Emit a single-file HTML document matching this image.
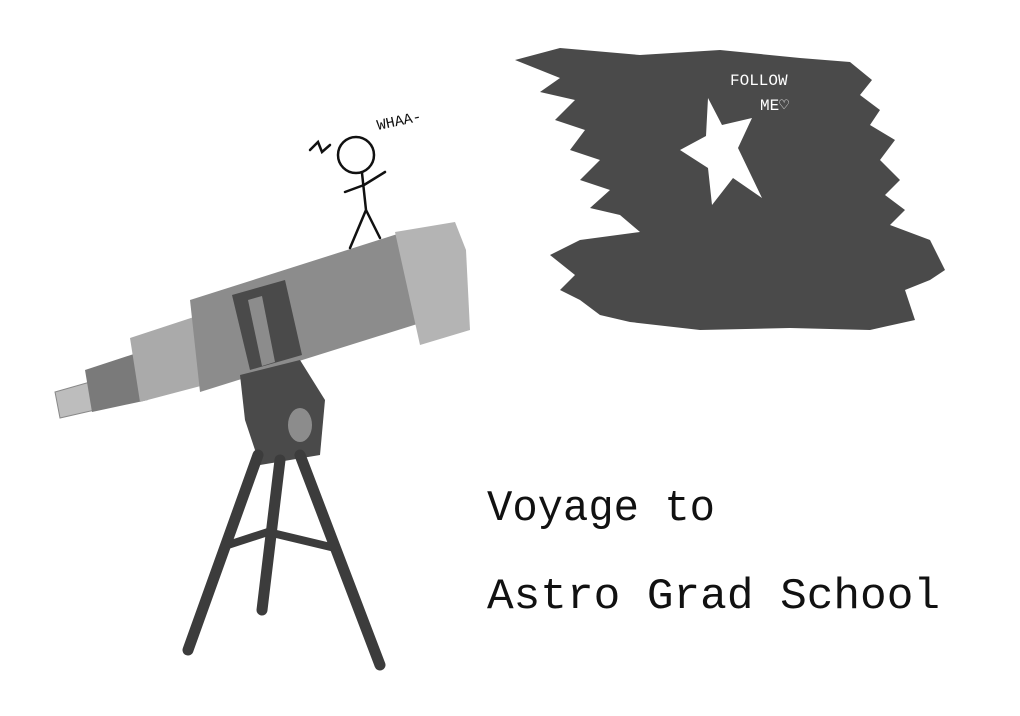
<!DOCTYPE html>
<html><head><meta charset="utf-8"><style>
html,body{margin:0;padding:0;background:#fff;width:1020px;height:716px;overflow:hidden}
svg{display:block}
text{font-family:"Liberation Mono","DejaVu Sans Mono",monospace}
</style></head><body>
<svg width="1020" height="716" viewBox="0 0 1020 716">
<rect width="1020" height="716" fill="#fff"/>
<g fill="#4a4a4a">
<path d="M515 60 L560 48 L640 55 L720 50 L800 58 L850 62 L872 80 L860 95 L880 110 L870 125 L895 140 L880 160 L900 180 L885 195 L905 210 L890 225 L930 240 L945 270 L930 280 L905 290 L915 320 L870 330 L790 328 L700 330 L630 322 L600 315 L580 300 L560 290 L575 275 L550 255 L580 240 L640 232 L620 215 L590 208 L610 190 L580 180 L600 160 L570 150 L585 130 L555 120 L575 100 L540 92 L560 78 Z"/>
</g>
<path d="M708 98 L722 125 L752 118 L738 148 L762 198 L733 178 L712 205 L708 168 L680 150 L706 136 Z" fill="#fff"/>
<text x="730" y="85" font-size="16" fill="#fff">FOLLOW</text>
<text x="760" y="110" font-size="16" fill="#fff">ME♡</text>
<g>
<path d="M55 392 L90 382 L95 410 L60 418 Z" fill="#bdbdbd" stroke="#888"/>
<path d="M85 370 L140 352 L148 400 L92 412 Z" fill="#7a7a7a"/>
<path d="M130 338 L200 315 L212 383 L140 402 Z" fill="#aaa"/>
<path d="M190 300 L410 230 L430 320 L200 392 Z" fill="#8c8c8c"/>
<path d="M395 232 L455 222 L466 250 L470 330 L420 345 Z" fill="#b4b4b4"/>
</g>
<g>
<path d="M232 295 L285 280 L302 355 L250 370 Z" fill="#4a4a4a"/>
<path d="M248 300 L262 296 L275 362 L262 366 Z" fill="#8c8c8c"/>
<path d="M240 375 L300 360 L325 400 L320 455 L260 465 L245 420 Z" fill="#4a4a4a"/>
<ellipse cx="300" cy="425" rx="12" ry="17" fill="#8c8c8c"/>
</g>
<g stroke="#3c3c3c" stroke-width="11" stroke-linecap="round" fill="none">
<path d="M258 455 L188 650"/>
<path d="M300 455 L380 665"/>
<path d="M280 460 L262 610"/>
<path d="M228 545 L268 532 L335 548" stroke-width="8"/>
</g>
<g stroke="#111" stroke-width="2.5" fill="none" stroke-linecap="round">
<circle cx="356" cy="155" r="18" fill="#fff"/>
<path d="M362 173 L366 210 M364 185 L345 192 M364 185 L385 172 M366 210 L350 248 M366 210 L380 238"/>
<path d="M310 150 L318 142 L322 152 L330 145"/>
</g>
<text x="378" y="130" font-size="15" fill="#111" transform="rotate(-12 378 130)">WHAA-</text>
<text x="487" y="520" font-size="44" fill="#111" textLength="228" lengthAdjust="spacingAndGlyphs">Voyage to</text>
<text x="487" y="608" font-size="44" fill="#111" textLength="453" lengthAdjust="spacingAndGlyphs">Astro Grad School</text>
</svg>
</body></html>
